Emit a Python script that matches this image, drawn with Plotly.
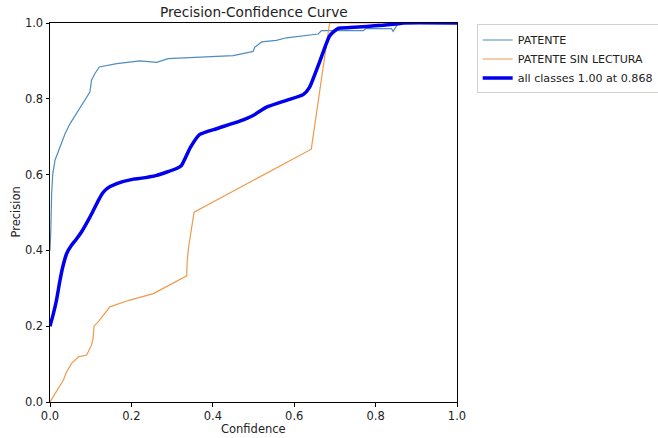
import plotly.graph_objects as go

# Per-class precision vs. confidence threshold
patente_conf = [0.0, 0.002, 0.004, 0.0066, 0.0123, 0.023, 0.037, 0.049, 0.0695, 0.088,
                0.098, 0.102, 0.110, 0.121, 0.164, 0.221, 0.250, 0.262, 0.290, 0.368,
                0.450, 0.491, 0.499, 0.503, 0.516, 0.520, 0.556, 0.581, 0.659, 0.667,
                0.770, 0.775, 0.839, 0.843, 0.855, 0.860, 1.0]
patente_prec = [0.40, 0.45, 0.55, 0.60, 0.638, 0.668, 0.708, 0.734, 0.769, 0.804,
                0.818, 0.849, 0.866, 0.884, 0.893, 0.900, 0.898, 0.896, 0.906, 0.910,
                0.914, 0.923, 0.925, 0.936, 0.945, 0.950, 0.954, 0.961, 0.971, 0.980,
                0.980, 0.985, 0.985, 0.978, 0.998, 1.0, 1.0]

sin_lectura_conf = [0.0, 0.033, 0.041, 0.053, 0.070, 0.090, 0.102, 0.106, 0.108, 0.119,
                    0.147, 0.196, 0.254, 0.270, 0.336, 0.337, 0.340, 0.354, 0.642, 0.687, 1.0]
sin_lectura_prec = [0.0, 0.058, 0.080, 0.102, 0.119, 0.124, 0.150, 0.168, 0.200, 0.212,
                    0.251, 0.269, 0.286, 0.295, 0.333, 0.370, 0.405, 0.501, 0.667, 1.0, 1.0]

# Mean over classes (smoothed)
all_conf = [0.0, 0.008, 0.016, 0.024, 0.031, 0.041, 0.052, 0.065, 0.078, 0.090, 0.105,
            0.119, 0.130, 0.140, 0.164, 0.205, 0.221, 0.262, 0.311, 0.323, 0.345, 0.368,
            0.409, 0.466, 0.499, 0.532, 0.581, 0.622, 0.638, 0.663, 0.687, 0.708, 0.737,
            0.778, 0.818, 0.855, 0.868, 1.0]
all_prec = [0.20, 0.232, 0.269, 0.318, 0.355, 0.392, 0.412, 0.430, 0.450, 0.472, 0.502,
            0.532, 0.552, 0.563, 0.576, 0.588, 0.590, 0.598, 0.616, 0.624, 0.672, 0.706,
            0.721, 0.741, 0.756, 0.778, 0.796, 0.811, 0.831, 0.899, 0.966, 0.986, 0.988,
            0.991, 0.994, 0.998, 1.0, 1.0]

tick_vals = [0.0, 0.2, 0.4, 0.6, 0.8, 1.0]
tick_text = ["0.0", "0.2", "0.4", "0.6", "0.8", "1.0"]

FONT = "DejaVu Sans"
TXT = "#222222"

fig = go.Figure()
fig.add_trace(go.Scatter(x=patente_conf, y=patente_prec, mode="lines", name="PATENTE",
                         line=dict(color="#4f8dbd", width=1.2)))
fig.add_trace(go.Scatter(x=sin_lectura_conf, y=sin_lectura_prec, mode="lines",
                         name="PATENTE SIN LECTURA", line=dict(color="#ee9a4c", width=1.2)))
fig.add_trace(go.Scatter(x=all_conf, y=all_prec, mode="lines",
                         name="all classes 1.00 at 0.868",
                         line=dict(color="#0000ee", width=3.5, shape="spline", smoothing=0.5)))

axis_common = dict(range=[0, 1], showgrid=False, zeroline=False, showline=True,
                   linecolor="black", linewidth=1, mirror=True, ticks="outside",
                   ticklen=3.5, tickwidth=1, tickcolor="black",
                   tickvals=tick_vals, ticktext=tick_text,
                   tickfont=dict(family=FONT, size=11.5, color=TXT))

fig.update_layout(
    width=658, height=438,
    margin=dict(l=50, r=200.7, t=22.5, b=36, autoexpand=False),
    paper_bgcolor="white", plot_bgcolor="white",
    xaxis=axis_common, yaxis=axis_common,
    title=dict(text="Precision-Confidence Curve", x=(254 - 50) / 407.3, xref="paper",
               xanchor="center", y=1 - 12 / 438, yanchor="middle",
               font=dict(family=FONT, size=13.7, color=TXT)),
    legend=dict(x=(477 - 50) / 407.3, y=(402 - 24) / 379.5, xanchor="left", yanchor="top",
                bordercolor="#d0d0d0", borderwidth=1, bgcolor="white",
                font=dict(family=FONT, size=11.1, color=TXT), itemwidth=30),
    annotations=[
        dict(text="Confidence", xref="paper", yref="paper", x=0.5, y=-(429 - 402) / 379.5,
             xanchor="center", yanchor="middle", showarrow=False,
             font=dict(family=FONT, size=11.5, color=TXT)),
        dict(text="Precision", xref="paper", yref="paper", x=-(50 - 15) / 407.3, y=0.5,
             xanchor="center", yanchor="middle", showarrow=False, textangle=-90,
             font=dict(family=FONT, size=11.5, color=TXT)),
    ],
)

fig.write_html("out.html")
